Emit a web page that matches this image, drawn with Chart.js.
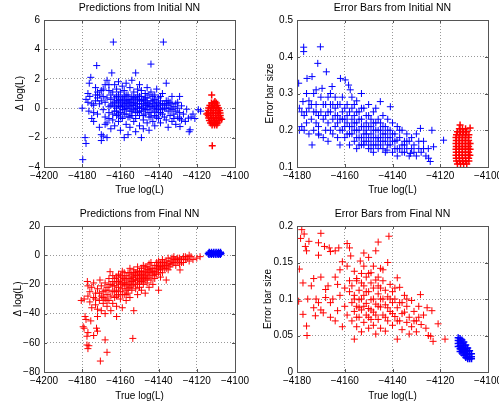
<!DOCTYPE html>
<html>
<head>
<meta charset="utf-8">
<script src="https://cdn.jsdelivr.net/npm/chart.js@4.4.1/dist/chart.umd.min.js"></script>
<style>
  html, body { margin: 0; padding: 0; background: #fff; overflow: hidden; }
  #fig { position: relative; width: 499px; height: 406px; }
  #fig canvas { position: absolute; }
</style>
</head>
<body>
<div id="fig">
  <canvas id="initPred" width="260" height="200" style="left:0;top:0"></canvas>
  <canvas id="initErr" width="260" height="200" style="left:250px;top:0"></canvas>
  <canvas id="finalPred" width="260" height="200" style="left:0;top:206px"></canvas>
  <canvas id="finalErr" width="260" height="200" style="left:250px;top:206px"></canvas>
</div>
<script>
/* ── Axis ticks ── */
const xTicksWide = [-4200, -4180, -4160, -4140, -4120, -4100];
const xTicksNarrow = [-4180, -4160, -4140, -4120, -4100];
const yTicksInitPred = [-4, -2, 0, 2, 4, 6];
const yTicksInitErr = [0.1, 0.2, 0.3, 0.4, 0.5];
const yTicksFinalPred = [-80, -60, -40, -20, 0, 20];
const yTicksFinalErr = [0, 0.05, 0.1, 0.15, 0.2];

/* ── Texts ── */
const panelTitles = [
  "Predictions from Initial NN",
  "Error Bars from Initial NN",
  "Predictions from Final NN",
  "Error Bars from Final NN",
];
const xLabel = "True log(L)";
const yLabelPred = "\u0394 log(L)";
const yLabelErr = "Error bar size";

/* ── Data: [true log(L), value] ── */
const initPredBlue = [
  [-4180,0.0],[-4179.7,-3.5],[-4178.5,-2.0],[-4178,-2.4],[-4178,0.6],[-4177,0.4],[-4176.5,-0.2],[-4177,1.0],[-4176.3,1.7],[-4175.5,2.1],
  [-4175,-0.7],[-4174,0.2],[-4174,-0.9],[-4173,0.9],[-4173,1.4],[-4172.4,2.9],[-4172,-0.4],[-4172,0.7],[-4171,-1.3],[-4171,0.3],
  [-4170,-1.8],[-4170,-2.2],[-4170,1.2],[-4169,-0.1],[-4169,-1.9],[-4169,0.8],[-4168,1.6],[-4168,-0.6],[-4168,0.4],[-4167,-2.0],
  [-4167,-1.0],[-4167,1.9],[-4166,0.1],[-4166,-0.3],[-4166,1.2],[-4165,0.6],[-4165,-1.4],[-4165,0.9],
  [-4176,0.8],[-4175,0.3],[-4174,-0.3],[-4173,0.5],[-4172,1.1],[-4171,0.9],[-4170,0.5],[-4169,1.3],[-4168,-1.1],[-4167,0.7],
  [-4166,-0.7],[-4166,1.6],
  [-4163.7,4.5],[-4164.5,2.4],[-4164,0.3],[-4164,-0.8],[-4164,1.1],[-4163,-0.2],[-4163,0.7],[-4163,-1.2],[-4163,1.6],[-4162,0.0],
  [-4162,0.5],[-4162,-0.5],[-4162,1.3],[-4161,1.8],[-4161,-0.9],[-4161,0.2],[-4161,0.9],[-4160,-0.3],[-4160,0.6],[-4160,-1.5],
  [-4160,1.1],[-4160,0.1],[-4159,0.4],[-4159,-0.7],[-4159,1.5],[-4159,-0.1],[-4158,-2.0],[-4158,0.8],[-4158,0.2],[-4158,-0.4],
  [-4158,1.2],[-4157,-1.1],[-4157,0.5],[-4157,0.0],[-4157,1.7],[-4156,-0.6],[-4156,0.3],[-4156,0.9],[-4156,-1.8],[-4155,1.4],
  [-4155,0.1],[-4155,-0.2],[-4155,0.6],[-4155,-1.3],[-4154,0.8],[-4154,-0.5],[-4154,0.2],[-4154,1.9],[-4153,-0.9],[-4153,0.4],
  [-4153,1.1],[-4153,-0.1],[-4152,2.4],[-4152,0.0],[-4152,0.7],[-4152,-0.7],[-4152,-1.6],[-4151,0.3],[-4151,1.3],[-4151,-0.3],
  [-4151,0.9],[-4150,-1.2],[-4150,0.5],[-4150,0.1],[-4150,1.6],[-4150,-0.5],
  [-4165,0.2],[-4164,-0.4],[-4163,0.1],[-4163,0.4],[-4162,-0.2],[-4162,0.8],[-4161,-0.4],[-4161,0.5],[-4160,0.3],[-4160,-0.6],
  [-4159,0.7],[-4159,0.1],[-4158,0.5],[-4158,-0.1],[-4157,0.3],[-4157,-0.4],[-4157,0.9],[-4156,0.6],[-4156,0.0],[-4155,0.4],
  [-4155,-0.6],[-4154,0.5],[-4154,-0.2],[-4153,0.7],[-4153,0.2],[-4152,0.3],[-4152,-0.3],[-4151,0.6],[-4151,0.0],[-4150,0.8],
  [-4150,-0.2],
  [-4149,-2.0],[-4149,0.8],[-4149,-0.2],[-4149,0.3],[-4149,1.2],[-4148,-0.8],[-4148,0.6],[-4148,0.0],[-4148,-1.4],[-4147,1.0],
  [-4147,0.2],[-4147,-0.4],[-4147,0.7],[-4146,-1.0],[-4146,0.4],[-4146,1.4],[-4146,-0.1],[-4145,-1.5],[-4145,0.1],[-4145,0.9],
  [-4145,-0.6],[-4144,3.0],[-4144,0.5],[-4144,-0.3],[-4144,1.1],[-4143,-0.9],[-4143,0.3],[-4143,0.0],[-4143,0.8],[-4142,-0.5],
  [-4142,0.6],[-4142,-1.2],[-4142,0.2],[-4141,1.3],[-4141,-0.1],[-4141,0.4],[-4140,-0.7],[-4140,0.7],[-4140,0.0],[-4140,-0.3],
  [-4139,0.5],[-4139,-1.0],[-4139,0.2],[-4138,-0.4],[-4138,1.0],[-4138,-0.1],[-4137.5,4.5],[-4137,0.3],[-4137,-0.6],[-4136,1.7],
  [-4136,0.0],[-4136,-0.8],[-4136,0.5],[-4135,-0.2],[-4135,0.2],[-4135,-1.3],
  [-4149,0.5],[-4149,0.0],[-4148,0.3],[-4148,-0.5],[-4147,0.5],[-4147,-0.1],[-4146,0.2],[-4146,0.7],[-4145,0.3],[-4145,-0.3],
  [-4144,0.1],[-4144,-0.6],[-4143,0.5],[-4142,-0.2],[-4142,0.9],[-4141,0.1],[-4141,-0.6],[-4140,0.3],[-4139,-0.3],[-4139,0.8],
  [-4138,0.3],[-4137,0.0],[-4136,0.3],[-4135,0.5],[-4134,0.0],[-4133,0.3],[-4132,-0.7],[-4130,0.4],[-4129,-0.7],
  [-4134,0.4],[-4134,-0.5],[-4133,-0.1],[-4133,0.8],[-4133,-0.9],[-4132,0.1],[-4132,-0.4],[-4131,-1.1],[-4131,0.3],[-4131,-0.2],
  [-4130,-0.6],[-4130,0.0],[-4129,0.8],[-4129,-0.3],[-4128.8,-1.25],[-4128,-0.8],[-4128,0.16],[-4127,-0.4],[-4126,-0.9],[-4125.3,-0.07],
  [-4124.4,-0.68],[-4124,-1.6],[-4123.5,-1.47],[-4123,-0.6],[-4122,-0.4],[-4121,-0.7],[-4119.2,-0.1],[-4118,-0.2],
];
const initPredRed = [
  [-4112.3,0.35],[-4111,0.35],[-4109.8,0.35],
  [-4113.2,0.18],[-4111.9,0.18],[-4110.6,0.18],[-4109.3,0.18],
  [-4113.8,0.01],[-4112.5,0.01],[-4111.2,0.01],[-4109.9,0.01],[-4108.6,0.01],
  [-4114,-0.16],[-4112.7,-0.16],[-4111.4,-0.16],[-4110.1,-0.16],[-4108.8,-0.16],[-4108,-0.16],
  [-4114.1,-0.33],[-4112.8,-0.33],[-4111.5,-0.33],[-4110.2,-0.33],[-4108.9,-0.33],[-4107.8,-0.33],
  [-4114,-0.5],[-4112.7,-0.5],[-4111.4,-0.5],[-4110.1,-0.5],[-4108.8,-0.5],[-4107.7,-0.5],
  [-4113.8,-0.67],[-4112.5,-0.67],[-4111.2,-0.67],[-4109.9,-0.67],[-4108.6,-0.67],[-4107.8,-0.67],
  [-4113.4,-0.84],[-4112.1,-0.84],[-4110.8,-0.84],[-4109.5,-0.84],[-4108.3,-0.84],
  [-4112.8,-1.01],[-4111.5,-1.01],[-4110.2,-1.01],[-4109,-1.01],
  [-4112,-1.15],[-4110.7,-1.15],[-4109.5,-1.15],
  [-4112.2,0.9],[-4111.9,-2.55],[-4114.8,-0.4],[-4107,-0.75],[-4110.5,0.45],
];

const initErrBlue = [
  [-4179.3,0.328],[-4179,0.2],[-4179,0.26],[-4178,0.21],[-4178,0.25],[-4177.5,0.278],[-4177.2,0.426],[-4177.2,0.414],[-4177,0.24],[-4177,0.2],
  [-4175.8,0.341],[-4176,0.3],[-4176,0.22],[-4175,0.26],[-4175,0.19],[-4175,0.28],[-4173.7,0.16],[-4173.7,0.346],[-4174,0.23],[-4173,0.3],
  [-4173,0.25],[-4173,0.2],[-4172,0.27],[-4172,0.22],[-4172,0.31],[-4171.3,0.382],[-4171,0.19],[-4171,0.24],[-4170.2,0.427],[-4170,0.29],
  [-4170.9,0.187],[-4170,0.25],[-4174,0.27],[-4172,0.25],[-4171,0.21],[-4176,0.25],
  [-4169.5,0.314],[-4169,0.23],[-4169,0.18],[-4167.7,0.359],[-4168,0.27],[-4168,0.2],[-4168,0.24],[-4167,0.29],[-4167,0.22],[-4167,0.17],
  [-4166,0.25],[-4166,0.3],[-4166,0.2],[-4165.3,0.319],[-4165,0.23],[-4165,0.27],[-4165,0.19],[-4164,0.26],[-4164,0.21],[-4164,0.29],
  [-4163,0.24],[-4163,0.18],[-4163,0.22],[-4161.8,0.341],[-4162,0.27],[-4162,0.2],[-4162,0.16],[-4161,0.23],[-4161,0.29],[-4161,0.25],
  [-4159.8,0.337],[-4160,0.21],[-4160,0.26],[-4160,0.18],[-4169,0.27],[-4167,0.25],[-4166,0.27],[-4164,0.24],[-4163,0.27],[-4162,0.23],
  [-4161,0.2],[-4160,0.23],
  [-4158.4,0.323],[-4159,0.24],[-4159,0.19],[-4159,0.22],[-4157.7,0.31],[-4158,0.21],[-4158,0.16],[-4158,0.25],[-4157,0.29],[-4157,0.23],
  [-4157,0.19],[-4156,0.27],[-4156,0.2],[-4156,0.17],[-4156,0.24],[-4155,0.28],[-4155,0.22],[-4155,0.18],[-4155,0.15],[-4154,0.25],
  [-4154,0.2],[-4154,0.16],[-4153,0.3],[-4153,0.23],[-4153,0.18],[-4153,0.21],[-4152,0.26],[-4152,0.19],[-4152,0.16],[-4151,0.24],
  [-4151,0.2],[-4151,0.17],[-4151,0.22],[-4150,0.27],[-4150,0.18],[-4150,0.15],[-4150,0.21],
  [-4159,0.27],[-4158,0.19],[-4157,0.21],[-4157,0.26],[-4156,0.22],[-4155,0.2],[-4155,0.25],[-4154,0.18],[-4154,0.23],[-4153,0.16],
  [-4153,0.26],[-4152,0.21],[-4152,0.17],[-4151,0.19],[-4150,0.16],[-4150,0.24],
  [-4149,0.23],[-4149,0.17],[-4149,0.19],[-4148,0.25],[-4148,0.2],[-4148,0.16],[-4148,0.14],[-4147,0.22],[-4147,0.18],[-4147,0.26],
  [-4146,0.2],[-4146,0.15],[-4146,0.17],[-4145.1,0.278],[-4145,0.22],[-4145,0.18],[-4145,0.16],[-4144,0.19],[-4144,0.24],[-4144,0.15],
  [-4143,0.21],[-4143,0.17],[-4143,0.14],[-4142,0.23],[-4142,0.18],[-4142.3,0.146],[-4140.9,0.264],[-4141,0.2],[-4141,0.16],[-4140,0.22],
  [-4140,0.17],[-4140,0.14],
  [-4149,0.21],[-4149,0.15],[-4148,0.18],[-4148,0.22],[-4147,0.16],[-4147,0.2],[-4146,0.18],[-4146,0.23],[-4145,0.2],[-4144,0.17],
  [-4144,0.21],[-4143,0.19],[-4142,0.16],[-4142,0.2],[-4141,0.18],[-4140,0.19],
  [-4139,0.19],[-4139,0.15],[-4138,0.21],[-4138.1,0.173],[-4138,0.13],[-4137,0.18],[-4137,0.15],[-4136,0.2],[-4136,0.16],[-4135,0.17],
  [-4135,0.14],[-4134,0.19],[-4134,0.15],[-4133,0.13],[-4133,0.17],[-4132.5,0.137],[-4132,0.18],[-4131,0.16],[-4130,0.13],[-4130,0.19],
  [-4129,0.15],[-4128.3,0.205],[-4128,0.14],[-4127,0.17],[-4126,0.13],[-4125,0.15],[-4124.9,0.124],[-4124.2,0.115],[-4123.5,0.2],[-4122.8,0.155],
  [-4118.6,0.173],[-4139,0.17],[-4138,0.15],[-4137,0.2],[-4136,0.14],[-4135,0.16],[-4134,0.17],[-4132,0.15],[-4131,0.14],[-4129,0.17],
  [-4127,0.15],
];
const initErrRed = [
  [-4112,0.204],[-4110.7,0.204],[-4109.4,0.204],
  [-4112.8,0.196],[-4111.5,0.196],[-4110.2,0.196],[-4108.9,0.196],
  [-4113.2,0.188],[-4111.9,0.188],[-4110.6,0.188],[-4109.3,0.188],[-4108,0.188],
  [-4113.4,0.18],[-4112.1,0.18],[-4110.8,0.18],[-4109.5,0.18],[-4108.2,0.18],
  [-4113.3,0.172],[-4112,0.172],[-4110.7,0.172],[-4109.4,0.172],[-4108.1,0.172],
  [-4113.4,0.164],[-4112.1,0.164],[-4110.8,0.164],[-4109.5,0.164],[-4108.2,0.164],[-4107.5,0.164],
  [-4113.3,0.156],[-4112,0.156],[-4110.7,0.156],[-4109.4,0.156],[-4108.1,0.156],
  [-4113.4,0.148],[-4112.1,0.148],[-4110.8,0.148],[-4109.5,0.148],[-4108.2,0.148],[-4107.5,0.148],
  [-4113.3,0.14],[-4112,0.14],[-4110.7,0.14],[-4109.4,0.14],[-4108.1,0.14],
  [-4113.4,0.132],[-4112.1,0.132],[-4110.8,0.132],[-4109.5,0.132],[-4108.2,0.132],[-4107.6,0.132],
  [-4113.3,0.124],[-4112,0.124],[-4110.7,0.124],[-4109.4,0.124],[-4108.1,0.124],
  [-4113.2,0.116],[-4111.9,0.116],[-4110.6,0.116],[-4109.3,0.116],[-4108,0.116],
  [-4112.8,0.108],[-4111.5,0.108],[-4110.2,0.108],[-4108.9,0.108],
  [-4111.7,0.214],[-4107.5,0.206],
];

const finalPredRed = [
  [-4179.5,-49],[-4179,-50],[-4178.5,-42],[-4178,-44],[-4177,-53],[-4177.5,-55.5],[-4177.5,-61.5],[-4177,-64],[-4176.5,-62],[-4174,-55],
  [-4172.5,-50],[-4172,-52],[-4170.5,-72.5],[-4168,-58],[-4167,-66.5],[-4153.5,-57],[-4175.5,-45],[-4172,-42],
  [-4180.5,-31],[-4179,-30],[-4177.3,-18],[-4177,-21],[-4177,-28],[-4176,-32],[-4176,-25],[-4175,-36],[-4175,-22],[-4174,-29],
  [-4174,-19],[-4173,-34],[-4173,-26],[-4172,-37],[-4172,-23],[-4171,-31],[-4170.7,-17],[-4170,-38],[-4170,-28],[-4170,-21],
  [-4169,-25],[-4169,-33],[-4168,-19],[-4168,-30],[-4168,-40],[-4167,-27],[-4167,-22],[-4167,-35],[-4166,-16],[-4166,-31],
  [-4166,-24],[-4165.4,-11.3],[-4165,-20],[-4165,-28],[-4165,-38],
  [-4169,-29],[-4168,-24],[-4167,-31],[-4166,-20],[-4171,-26],[-4173,-30],
  [-4164,-18],[-4164,-25],[-4164,-33],[-4164,-14],[-4163,-21],[-4163,-29],[-4163,-16],[-4162,-24],[-4162,-19],[-4162,-35],
  [-4162,-42],[-4161,-13],[-4161,-22],[-4161,-27],[-4160,-17],[-4160,-30],[-4160,-20],[-4160,-25],[-4159,-15],[-4159,-23],
  [-4159,-36],[-4159,-11],[-4158,-19],[-4158,-27],[-4158,-21],[-4157,-14],[-4157,-24],[-4157,-31],[-4157,-17],[-4156,-20],
  [-4156,-12],[-4156,-26],[-4155,-16],[-4155,-22],[-4155,-9],[-4155,-29],[-4154,-18],[-4154,-13],[-4154,-24],[-4153,-10],
  [-4153,-20],[-4153,-15],[-4153,-38],[-4152,-17],[-4152,-23],[-4152,-12],[-4151,-14],[-4151,-20],[-4151,-8],[-4151,-27],
  [-4150,-16],[-4150,-11],[-4150,-22],
  [-4164,-21],[-4163,-25],[-4162,-15],[-4162,-28],[-4161,-18],[-4160,-14],[-4159,-19],[-4159,-27],[-4158,-16],[-4158,-12],
  [-4157,-20],[-4157,-27],[-4156,-16],[-4156,-23],[-4155,-19],[-4155,-12],[-4154,-15],[-4154,-21],[-4153,-17],[-4153,-12],
  [-4152,-14],[-4152,-20],[-4151,-17],[-4151,-11],[-4150,-13],[-4150,-19],
  [-4149,-13],[-4149,-18],[-4149,-9],[-4149,-24],[-4148,-15],[-4148,-7],[-4148,-20],[-4147,-11],[-4147,-17],[-4147,-26],
  [-4146,-13],[-4146,-8],[-4146,-19],[-4145,-10],[-4145,-15],[-4145,-6],[-4145,-22],[-4144,-12],[-4144,-17],[-4144,-5],
  [-4143,-9],[-4143,-14],[-4143,-20],[-4142,-7],[-4142,-11],[-4142,-16],[-4141,-5],[-4141,-9],[-4141,-13],[-4140,-8],
  [-4140,-4],[-4140,-12],[-4140,-24],[-4139,-6],[-4139,-10],[-4139,-15],[-4138,-3],[-4138,-8],[-4138,-12],[-4137,-5],
  [-4137,-9],[-4136,-4],[-4136,-7],[-4136,-17],[-4135,-2],[-4135,-6],[-4135,-10],
  [-4149,-15],[-4149,-11],[-4148,-12],[-4148,-17],[-4147,-14],[-4147,-8],[-4146,-10],[-4146,-16],[-4145,-12],[-4144,-9],
  [-4143,-11],[-4142,-13],[-4141,-7],[-4140,-10],[-4139,-8],[-4138,-5],[-4137,-7],[-4136,-9],
  [-4134,-4],[-4134,-8],[-4133,-2],[-4133,-6],[-4132,-5],[-4132,-1],[-4131,-3],[-4131,-7],[-4130,-4],[-4129,-2],
  [-4129,-6],[-4128,-3],[-4128.8,-10.1],[-4127,-1],[-4127,-5],[-4126,-3],[-4125,-2],[-4124,0],[-4124,-4],[-4123,-1],
  [-4122,-3],[-4120,-2],[-4118.3,-1],[-4134,-6],[-4132,-3],[-4130,-2],[-4128,-5],[-4126,-1],
];
const finalPredBlue = [
  [-4113.5,2.0],[-4112.3,2.0],[-4111.1,2.0],[-4109.9,2.0],[-4108.7,2.0],[-4107.6,2.0],
  [-4114,1.2],[-4112.8,1.2],[-4111.6,1.2],[-4110.4,1.2],[-4109.2,1.2],[-4108,1.2],[-4107.3,1.2],
  [-4113.6,0.4],[-4112.4,0.4],[-4111.2,0.4],[-4110,0.4],[-4108.8,0.4],[-4107.7,0.4],
];

const finalErrRed = [
  [-4178,0.195],[-4177,0.189],[-4178.5,0.183],[-4175,0.179],[-4171,0.177],[-4170,0.19],[-4166.5,0.17],[-4166,0.165],[-4171,0.16],[-4176,0.166],
  [-4176.5,0.172],[-4168.5,0.172],[-4164,0.166],[-4162.5,0.17],[-4159,0.176],[-4158,0.17],[-4157.5,0.159],[-4152,0.163],[-4150,0.157],[-4153.5,0.152],
  [-4146,0.178],[-4141.5,0.186],[-4147,0.166],[-4179,0.141],[-4177.5,0.122],[-4174,0.118],[-4173,0.128],[-4170,0.13],[-4168,0.113],[-4164,0.13],
  [-4162,0.14],[-4159,0.145],[-4156,0.138],[-4152,0.145],[-4149,0.136],[-4145,0.142],[-4142,0.15],[-4161,0.151],[-4155,0.125],
  [-4150,0.135],[-4146,0.13],[-4144,0.14],[-4148,0.145],[-4153,0.135],
  [-4179.3,0.097],[-4177.5,0.079],[-4176,0.063],[-4175.8,0.05],[-4175.5,0.1],[-4173,0.088],[-4172.3,0.077],[-4171,0.095],[-4169,0.081],[-4168,0.102],
  [-4166,0.095],[-4166,0.075],[-4164,0.07],[-4163,0.084],[-4162,0.105],[-4161,0.062],[-4160,0.09],[-4159,0.078],[-4158,0.11],
  [-4172,0.1],[-4170,0.085],[-4167,0.118],[-4165,0.1],[-4163,0.12],[-4160,0.115],[-4158,0.125],
  [-4157,0.118],[-4157,0.095],[-4157,0.07],[-4156,0.045],[-4156,0.083],[-4156,0.105],[-4155,0.128],[-4155,0.09],[-4155,0.062],[-4154,0.112],
  [-4154,0.075],[-4154,0.099],[-4153,0.122],[-4153,0.085],[-4153,0.055],[-4152,0.105],[-4152,0.068],[-4152,0.118],[-4151,0.094],[-4151,0.078],
  [-4151,0.13],[-4150,0.11],[-4150,0.06],[-4150,0.087],[-4149,0.122],[-4149,0.072],[-4149,0.099],[-4148,0.115],[-4148,0.082],[-4148,0.064],
  [-4147,0.126],[-4147,0.093],[-4147,0.052],[-4146,0.107],[-4146,0.072],[-4146,0.118],[-4145,0.089],[-4145,0.06],[-4145,0.1],[-4144,0.125],
  [-4144,0.078],[-4143,0.112],[-4143,0.056],[-4143,0.092],[-4142,0.07],[-4142,0.103],[-4141,0.12],[-4141,0.083],[-4140,0.095],[-4140,0.064],
  [-4140,0.11],[-4139,0.076],[-4139,0.1],[-4138,0.129],[-4138,0.045],[-4138,0.088],
  [-4156,0.1],[-4155,0.075],[-4154,0.088],[-4153,0.1],[-4152,0.09],[-4151,0.11],[-4150,0.075],[-4149,0.085],[-4148,0.1],[-4147,0.078],
  [-4146,0.09],[-4145,0.115],[-4144,0.1],[-4143,0.075],[-4142,0.088],[-4141,0.1],[-4140,0.08],[-4139,0.115],[-4138,0.07],
  [-4137,0.116],[-4137,0.07],[-4136,0.095],[-4136,0.058],[-4135,0.082],[-4135,0.105],[-4134,0.068],[-4134,0.09],[-4133,0.075],[-4133,0.052],
  [-4132,0.098],[-4132,0.062],[-4131,0.083],[-4130,0.07],[-4130,0.055],[-4129,0.09],[-4128.3,0.106],[-4128,0.065],[-4127,0.078],[-4126,0.06],
  [-4125.5,0.088],[-4125,0.05],[-4123.5,0.084],[-4124,0.049],[-4123,0.042],[-4120.9,0.066],[-4118,0.045],
  [-4137,0.095],[-4136,0.08],[-4134,0.1],[-4131,0.07],[-4129,0.075],
];
const finalErrBlue = [
  [-4112.5,0.047],[-4112.5,0.043],[-4112.5,0.039],[-4112.5,0.035],
  [-4111.7,0.046],[-4111.7,0.041],[-4111.7,0.036],[-4111.7,0.032],[-4111.7,0.028],
  [-4110.9,0.044],[-4110.9,0.039],[-4110.9,0.034],[-4110.9,0.03],[-4110.9,0.026],
  [-4110.1,0.041],[-4110.1,0.036],[-4110.1,0.031],[-4110.1,0.027],[-4110.1,0.023],
  [-4109.3,0.037],[-4109.3,0.032],[-4109.3,0.028],[-4109.3,0.024],[-4109.3,0.02],
  [-4108.5,0.033],[-4108.5,0.029],[-4108.5,0.025],[-4108.5,0.021],[-4108.5,0.018],
  [-4107.7,0.029],[-4107.7,0.025],[-4107.7,0.021],[-4107.7,0.018],
  [-4106.9,0.025],[-4106.9,0.021],[-4106.9,0.018],
];

/* ── Style ── */
const BLUE = "#0000ff";
const RED = "#ff0000";
const AXIS_COLOR = "#555";
const GRID_COLOR = "rgba(0,0,0,0.4)";
const FONT = '"Liberation Sans", Arial, Helvetica, sans-serif';

Chart.defaults.font.family = FONT;
Chart.defaults.font.size = 10;
Chart.defaults.color = "#000";

/* Matlab-like box, inward ticks and centred title */
const matlabAxes = {
  id: "matlabAxes",
  afterDraw(chart, args, opts) {
    const { ctx, chartArea: a } = chart;
    const xs = chart.scales.x;
    const ys = chart.scales.y;
    ctx.save();
    ctx.strokeStyle = AXIS_COLOR;
    ctx.lineWidth = 1;
    ctx.beginPath();
    xs.ticks.forEach((t) => {
      const px = Math.round(xs.getPixelForValue(t.value)) + 0.5;
      ctx.moveTo(px, a.bottom);
      ctx.lineTo(px, a.bottom - 3);
      ctx.moveTo(px, a.top);
      ctx.lineTo(px, a.top + 3);
    });
    ys.ticks.forEach((t) => {
      const py = Math.round(ys.getPixelForValue(t.value)) + 0.5;
      ctx.moveTo(a.left, py);
      ctx.lineTo(a.left + 3, py);
      ctx.moveTo(a.right, py);
      ctx.lineTo(a.right - 3, py);
    });
    ctx.stroke();
    ctx.strokeRect(Math.round(a.left) + 0.5, Math.round(a.top) + 0.5, Math.round(a.width), Math.round(a.height));
    ctx.fillStyle = "#000";
    ctx.font = "10.5px " + FONT;
    ctx.textAlign = "center";
    ctx.textBaseline = "middle";
    ctx.fillText(opts.title, (a.left + a.right) / 2, a.top - 12);
    ctx.restore();
  },
};

const fmt = (v) => String(v).replace("-", "\u2212");

function axis(ticks, label, size, horizontal, titlePad) {
  return {
    type: "linear",
    position: horizontal ? "bottom" : "left",
    min: ticks[0],
    max: ticks[ticks.length - 1],
    afterBuildTicks: (s) => {
      s.ticks = ticks.map((v) => ({ value: v }));
    },
    afterFit: (s) => {
      if (horizontal) s.height = size;
      else s.width = size;
    },
    grid: { color: GRID_COLOR, drawTicks: false, lineWidth: 1 },
    border: { display: false, dash: [1, 2] },
    ticks: {
      color: "#000",
      padding: horizontal ? 3 : 4,
      autoSkip: false,
      maxRotation: 0,
      callback: (v) => fmt(v),
    },
    title: {
      display: true,
      text: label,
      color: "#000",
      padding: horizontal ? { top: 0, bottom: 4 } : { top: titlePad, bottom: 0 },
    },
  };
}

function crosses(points, color, width) {
  return {
    data: points.map(([x, y]) => ({ x, y })),
    pointStyle: "cross",
    pointRadius: 3.5,
    pointHoverRadius: 3.5,
    borderColor: color,
    backgroundColor: color,
    borderWidth: width,
    pointBorderWidth: width,
  };
}

function panel(id, opt) {
  new Chart(document.getElementById(id), {
    type: "scatter",
    data: { datasets: opt.datasets },
    plugins: [matlabAxes],
    options: {
      responsive: false,
      animation: false,
      events: [],
      layout: { padding: { top: 20, left: 0, right: opt.padRight, bottom: 0 } },
      plugins: {
        legend: { display: false },
        tooltip: { enabled: false },
        matlabAxes: { title: opt.title },
      },
      scales: {
        x: axis(opt.xTicks, xLabel, opt.xHeight, true, 0),
        y: axis(opt.yTicks, opt.yLabel, opt.yWidth, false, opt.yTitlePad),
      },
    },
  });
}

panel("initPred", {
  title: panelTitles[0],
  datasets: [crosses(initPredBlue, BLUE, 1), crosses(initPredRed, RED, 1.5)],
  xTicks: xTicksWide, yTicks: yTicksInitPred, yLabel: yLabelPred,
  padRight: 25, yWidth: 44, xHeight: 33, yTitlePad: 14,
});
panel("initErr", {
  title: panelTitles[1],
  datasets: [crosses(initErrBlue, BLUE, 1), crosses(initErrRed, RED, 1.5)],
  xTicks: xTicksNarrow, yTicks: yTicksInitErr, yLabel: yLabelErr,
  padRight: 22, yWidth: 47, xHeight: 33, yTitlePad: 14,
});
panel("finalPred", {
  title: panelTitles[2],
  datasets: [crosses(finalPredRed, RED, 1), crosses(finalPredBlue, BLUE, 1.5)],
  xTicks: xTicksWide, yTicks: yTicksFinalPred, yLabel: yLabelPred,
  padRight: 25, yWidth: 44, xHeight: 34, yTitlePad: 12,
});
panel("finalErr", {
  title: panelTitles[3],
  datasets: [crosses(finalErrRed, RED, 1), crosses(finalErrBlue, BLUE, 1.5)],
  xTicks: xTicksNarrow, yTicks: yTicksFinalErr, yLabel: yLabelErr,
  padRight: 22, yWidth: 47, xHeight: 34, yTitlePad: 12,
});
</script>
</body>
</html>
